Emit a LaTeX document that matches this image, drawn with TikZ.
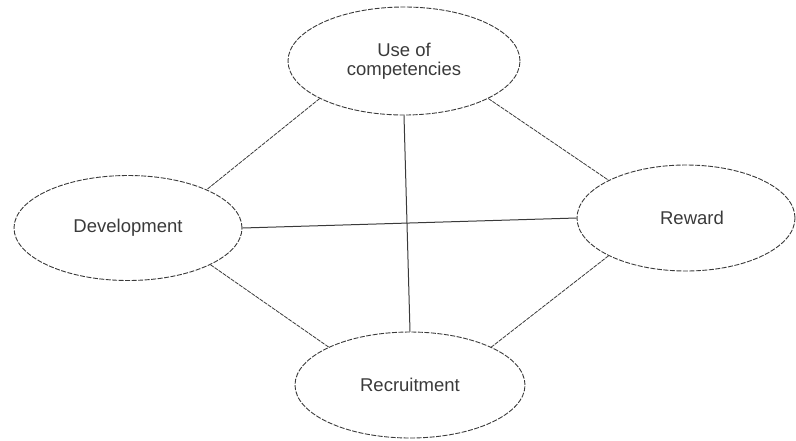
\documentclass[tikz,border=0pt]{standalone}
\usepackage{fontspec}
\setmainfont{Liberation Sans}
\usetikzlibrary{shapes.geometric}
\definecolor{ink}{HTML}{3A3A3A}
\begin{document}
\begin{tikzpicture}[x=1pt,y=-1pt,
  oval/.style={ellipse,draw=ink,line width=0.9pt,dash pattern=on 5pt off 1.5pt,inner sep=0pt,
    font=\fontsize{18.5}{19}\selectfont,text=ink,align=center},
  link/.style={draw=ink,line width=0.8pt,dash pattern=on 4pt off 1pt},
  cross/.style={draw=ink,line width=1pt}]
\useasboundingbox (0,0) rectangle (796,440);
\node[oval,minimum width=232pt,minimum height=108pt] (use) at (404,61) {Use of\\competencies};
\node[oval,minimum width=228pt,minimum height=105pt] (dev) at (128,228) {Development};
\node[oval,minimum width=218pt,minimum height=106pt] (rew) at (686,218) {\hspace*{12pt}Reward};
\node[oval,minimum width=230pt,minimum height=106pt] (rec) at (410,385) {Recruitment};
\draw[link] (use.204.9) -- (dev.26);
\draw[link] (use.336.7) -- (rew.154);
\draw[link] (dev.336.5) -- (rec.155.9);
\draw[link] (rew.206.9) -- (rec.25.7);
\draw[cross] (dev.east) -- (rew.west);
\draw[cross] (use.south) -- (rec.north);
\end{tikzpicture}
\end{document}
